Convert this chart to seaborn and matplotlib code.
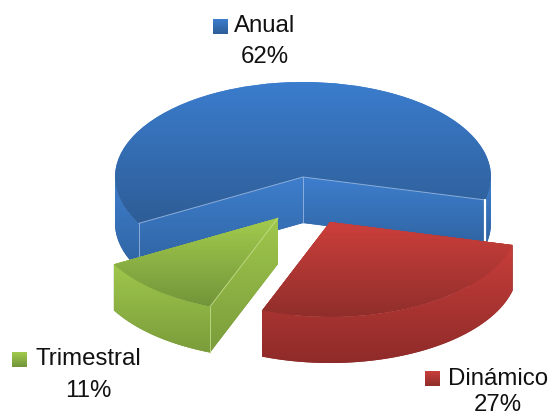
#! /usr/bin/env python

import matplotlib.pyplot as plt
import numpy as np
import seaborn as sns
from matplotlib.patches import Polygon, Rectangle

sns.set_theme(style="white")
plt.rcParams["font.family"] = ["Liberation Sans", "DejaVu Sans"]

categories = ["Anual", "Dinámico", "Trimestral"]
percents = [62, 27, 11]

# Layout, in picture pixels. The pie is a circle squashed into an ellipse.
WIDTH, HEIGHT = 550, 416
CX, CY = 303, 177
RX, RY = 188, 95
DEPTH = 46 / RY
APEX = [(303, 177), (330, 222), (278, 218)]
TOP_COLORS = [("#3b7dce", "#2e5d96"), ("#cc3f3b", "#8f2e2b"), ("#a3cb4d", "#72943a")]
SIDE_COLORS = [("#3e7ecd", "#2f64a2"), ("#c83e3a", "#8e2b29"), ("#a0c74c", "#7a9c3b")]
EDGE_COLORS = ["#9dbce4", "#e08a86", "#c9e090"]
LABEL_X = [265, 498, 88]
LABEL_Y = [32, 385, 365]
PERCENT_Y = [63, 411, 397]
SQUARES = [(213, 19), (425, 371), (12, 352)]
FONT_SIZE = 17.3


def to_data(px, py):
    return (px - CX) / RX, (CY - py) / RY


def gradient_fill(ax, patch, colors, zorder):
    cmap = sns.blend_palette(colors, as_cmap=True)
    xy = patch.get_path().transformed(patch.get_patch_transform()).vertices
    extent = (xy[:, 0].min(), xy[:, 0].max(), xy[:, 1].min(), xy[:, 1].max())
    im = ax.imshow(np.linspace(0, 1, 256)[:, None], extent=extent, origin="upper",
                   aspect="auto", cmap=cmap, vmin=0, vmax=1, zorder=zorder,
                   interpolation="bilinear")
    im.set_clip_path(patch)


def side_polygon(ax, pts, colors, zorder):
    pts = np.asarray(pts)
    low = pts - [0, DEPTH]
    poly = Polygon(np.vstack([pts, low[::-1]]), closed=True, facecolor=colors[1],
                   edgecolor="none", zorder=zorder)
    ax.add_patch(poly)
    gradient_fill(ax, poly, colors, zorder)


def arc_points(t1, t2, center):
    theta = np.radians(np.linspace(t1, t2, max(int(t2 - t1) * 2, 2)))
    return np.column_stack([center[0] + np.cos(theta), center[1] + np.sin(theta)])


fig = plt.figure(figsize=(WIDTH / 100, HEIGHT / 100), dpi=100)
ax = fig.add_axes([0, 0, 1, 1])

wedges, _ = ax.pie(percents, startangle=209.2, counterclock=False,
                   colors=[c[0] for c in TOP_COLORS], wedgeprops={"linewidth": 0})

for i, wedge in enumerate(wedges):
    center = to_data(*APEX[i])
    wedge.set_center(center)
    t1, t2 = wedge.theta1, wedge.theta2
    # band 0 is the slice, so each one sits over the one before
    z = 2 + i * 3 if i == 0 else 2 + (3 - i) * 3
    # cut faces
    for t in (t1, t2):
        end = arc_points(t, t, center)[0]
        side_polygon(ax, [center, end], SIDE_COLORS[i], z)
    # rounded wall, only the part turned to the viewer
    ranges = [(max(t1, a), min(t2, b)) for a, b in [(-180, 0), (180, 360)]]
    for a, b in ranges:
        if b > a:
            side_polygon(ax, arc_points(a, b, center), SIDE_COLORS[i], z + 1)
    wedge.set_zorder(z + 2)
    gradient_fill(ax, wedge, TOP_COLORS[i], z + 2)

    # thin light seams along the visible corners
    seam = {"color": EDGE_COLORS[i], "lw": 0.7, "alpha": 0.8, "zorder": z + 2.5}
    end1, end2 = arc_points(t1, t1, center)[0], arc_points(t2, t2, center)[0]
    if categories[i] == "Anual":
        for end in (end1, end2):
            ax.plot([center[0], end[0]], [center[1], end[1]], **seam)
        for p in (center, end2):
            ax.plot([p[0], p[0]], [p[1], p[1] - DEPTH], **seam)
        ax.plot([end1[0]] * 2, [end1[1], end1[1] - DEPTH], color="white", lw=1.6, zorder=z + 2.5)
    if categories[i] == "Trimestral":
        ax.plot([center[0], end2[0]], [center[1], end2[1]], **seam)
        ax.plot([end2[0]] * 2, [end2[1], end2[1] - DEPTH], **seam)

for i, cat in enumerate(categories):
    lx, ly = SQUARES[i]
    x0, y0 = to_data(lx, ly + 15)
    square = Rectangle((x0, y0), 15 / RX, 15 / RY, facecolor=TOP_COLORS[i][0], edgecolor="none", zorder=30)
    ax.add_patch(square)
    gradient_fill(ax, square, TOP_COLORS[i], 30)
    tx, ty = to_data(LABEL_X[i], LABEL_Y[i])
    ax.text(tx, ty, cat, fontsize=FONT_SIZE, color="#111111", ha="center", va="baseline", zorder=31)
    tx, ty = to_data(LABEL_X[i], PERCENT_Y[i])
    ax.text(tx, ty, f"{percents[i]}%", fontsize=FONT_SIZE, color="#111111", ha="center", va="baseline", zorder=31)

ax.set_aspect("auto")
ax.set_xlim(to_data(0, 0)[0], to_data(WIDTH, 0)[0])
ax.set_ylim(to_data(0, HEIGHT)[1], to_data(0, 0)[1])
ax.axis("off")
sns.despine(left=True, bottom=True)
fig.savefig("out.png", dpi=100)
